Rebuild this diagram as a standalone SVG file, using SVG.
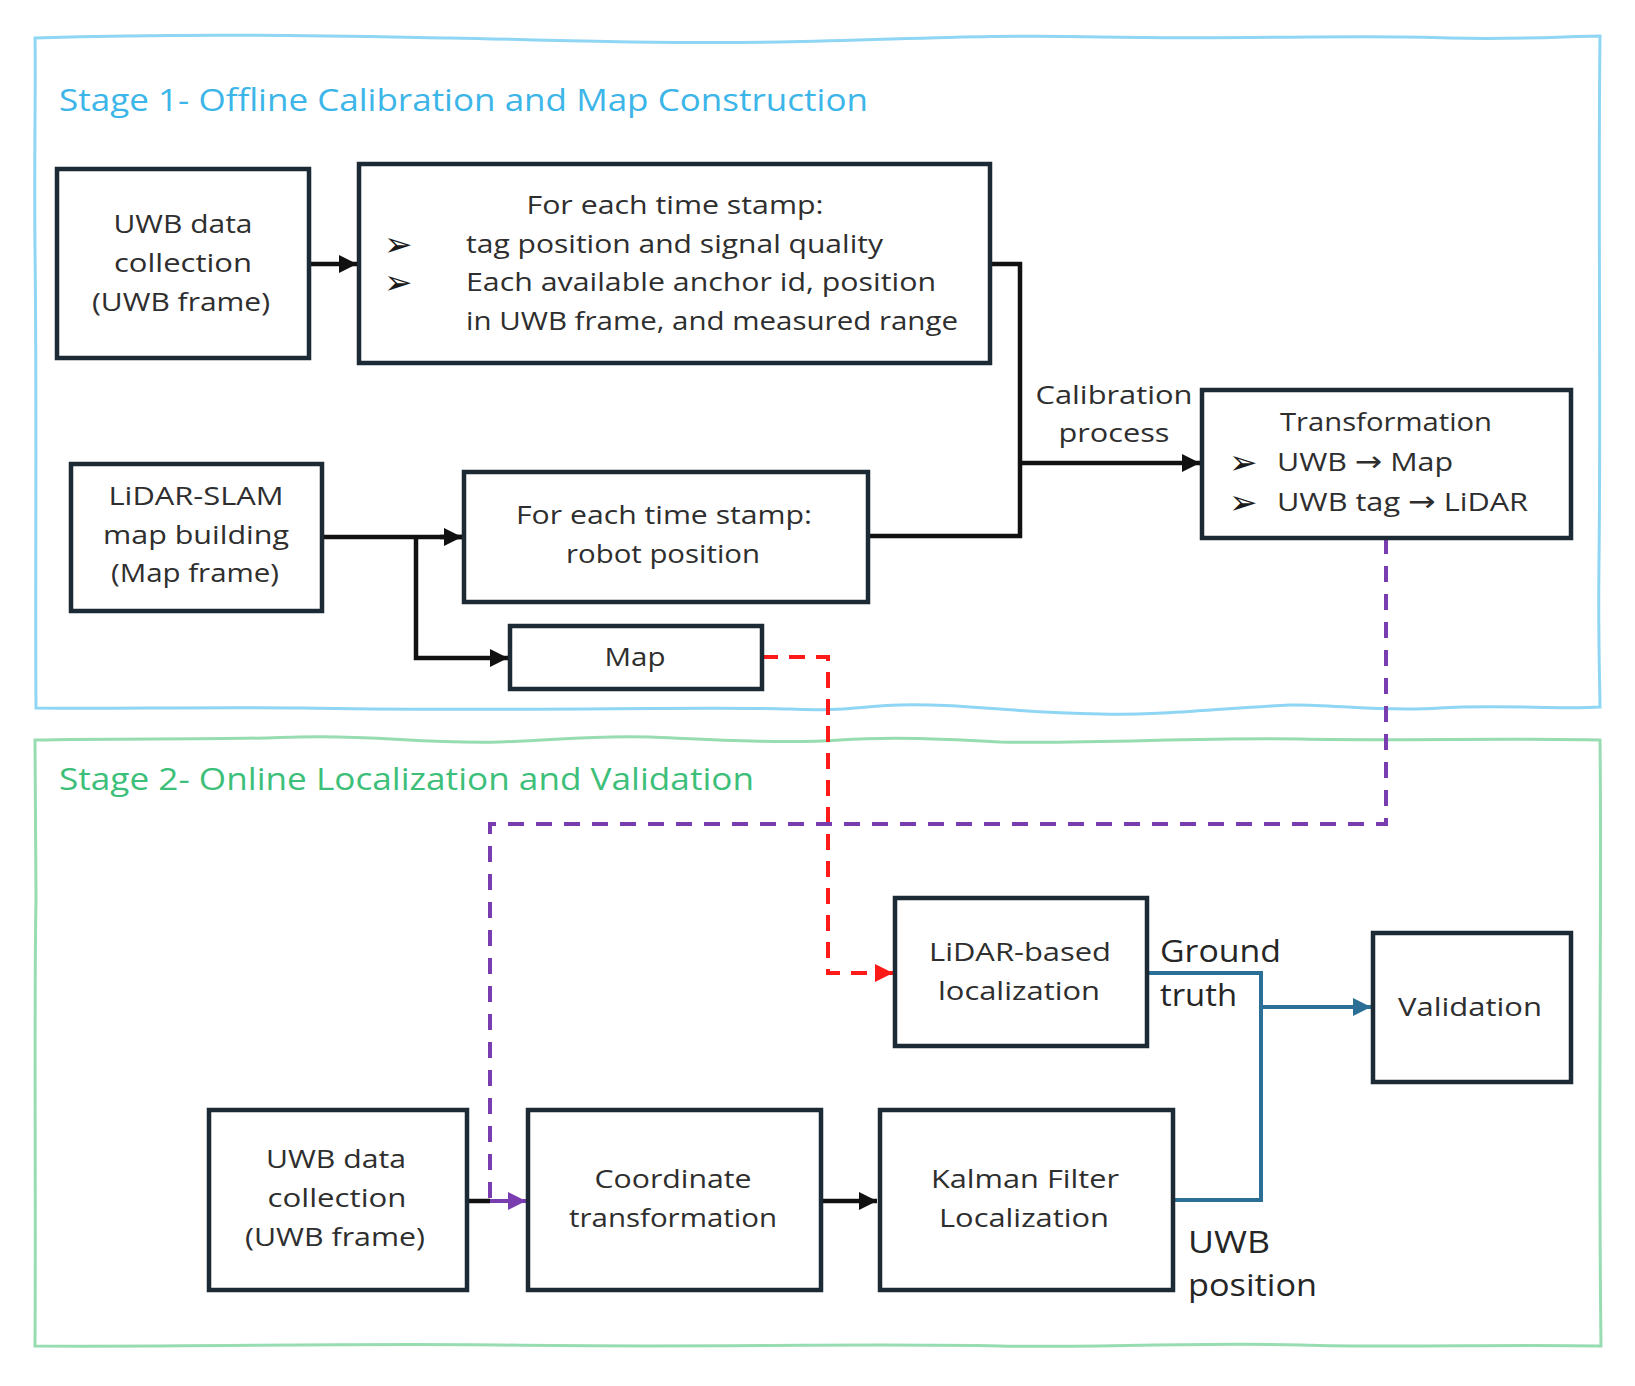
<svg xmlns="http://www.w3.org/2000/svg" width="1635" height="1386" viewBox="0 0 1635 1386">
<defs>
<style>
.bg{fill:#ffffff}
.node{fill:#ffffff;stroke:#1b2a35;stroke-width:4.5}
.t{font-family:"Open Sans","Liberation Sans",sans-serif;font-size:26px;fill:#2e2e2e;font-weight:500}
.tm{text-anchor:middle}
.ar{font-family:"DejaVu Sans",sans-serif;font-size:28px}
.lbl{font-family:"Open Sans","Liberation Sans",sans-serif;font-size:31px;fill:#262626;font-weight:500}
.bul{font-family:"DejaVu Sans",sans-serif;font-size:34px;fill:#1a1a1a}
.title{font-family:"Open Sans","Liberation Sans",sans-serif;font-size:31px;font-weight:500}
.c{fill:none;stroke-width:4}
.blk{stroke:#111111;stroke-width:4.5}
.blu{stroke:#2b6f96}
.red{stroke:#ff1a1a;stroke-dasharray:16 11}
.pur{stroke:#7a3db0;stroke-dasharray:16 12}
.frame1{fill:none;stroke:#8fd6f4;stroke-width:3}
.frame2{fill:none;stroke:#98dcb2;stroke-width:3}
</style>
<marker id="ak" viewBox="0 0 10 10" refX="10" refY="5" markerWidth="18" markerHeight="18" markerUnits="userSpaceOnUse" orient="auto"><path d="M0,0 L10,5 L0,10 z" fill="#111111"/></marker>
<marker id="ab" viewBox="0 0 10 10" refX="10" refY="5" markerWidth="18" markerHeight="18" markerUnits="userSpaceOnUse" orient="auto"><path d="M0,0 L10,5 L0,10 z" fill="#2b6f96"/></marker>
<marker id="ar" viewBox="0 0 10 10" refX="10" refY="5" markerWidth="18" markerHeight="18" markerUnits="userSpaceOnUse" orient="auto"><path d="M0,0 L10,5 L0,10 z" fill="#ff1a1a"/></marker>
<marker id="ap" viewBox="0 0 10 10" refX="10" refY="5" markerWidth="18" markerHeight="18" markerUnits="userSpaceOnUse" orient="auto"><path d="M0,0 L10,5 L0,10 z" fill="#7a3db0"/></marker>
</defs>
<rect class="bg" x="0" y="0" width="1635" height="1386"/>

<g id="stage1">
<path class="frame1" d="M35,38 C200,33 330,36 450,38 C560,40 640,44 780,42 C900,40 980,34 1100,37 C1250,40 1350,34 1450,38 C1520,40 1570,36 1600,36 C1598,200 1601,400 1599,560 C1598,640 1600,690 1600,707 C1560,710 1500,704 1440,708 C1380,712 1330,704 1290,705 C1220,708 1160,716 1100,714 C1000,712 960,703 900,705 C860,706 840,712 790,709 C700,706 500,712 300,708 C200,707 100,709 36,708 C35,600 37,400 35,250 C34,150 36,80 35,38 Z"/>
<text class="title" x="59" y="111" fill="#3cb5e8" textLength="809" lengthAdjust="spacingAndGlyphs">Stage 1- Offline Calibration and Map Construction</text>
</g>

<g id="stage2">
<path class="frame2" d="M35,740 C120,738 220,740 300,737 C380,735 420,744 500,742 C560,740 590,735 650,737 C700,739 780,744 840,740 C900,736 960,740 1000,742 C1100,744 1200,737 1300,739 C1400,741 1500,738 1600,740 C1602,900 1598,1100 1601,1346 C1500,1344 1400,1348 1300,1345 C1200,1342 1100,1348 1000,1346 C850,1343 700,1348 500,1345 C350,1343 200,1347 35,1346 C36,1200 34,1000 36,900 C35,820 35,770 35,740 Z"/>
<text class="title" x="59" y="790" fill="#3dbf7a" textLength="695" lengthAdjust="spacingAndGlyphs">Stage 2- Online Localization and Validation</text>
</g>

<g id="connectors">
<path class="c blk" d="M309,264 L357,264" marker-end="url(#ak)"/>
<path class="c blk" d="M990,264 L1020,264 L1020,536 L868,536"/>
<path class="c blk" d="M1020,463 L1200,463" marker-end="url(#ak)"/>
<path class="c blk" d="M322,537 L462,537"/>
<path class="c blk" d="M416,537 L416,658 L508,658" marker-end="url(#ak)"/>
<path class="c blk" d="M440,537 L462,537" marker-end="url(#ak)"/>
<path class="c red" d="M762,657 L828,657 L828,973 L893,973" marker-end="url(#ar)"/>
<path class="c pur" d="M1386,538 L1386,824 L490,824 L490,1201"/>
<path class="c blk" d="M467,1201 L490,1201"/>
<path style="fill:none;stroke:#7a3db0;stroke-width:4" d="M490,1201 L526,1201" marker-end="url(#ap)"/>
<path class="c blk" d="M821,1201 L877,1201" marker-end="url(#ak)"/>
<path class="c blu" d="M1147,973 L1261,973 L1261,1200 L1173,1200"/>
<path class="c blu" d="M1261,1007 L1371,1007" marker-end="url(#ab)"/>
<text class="t tm" x="1114" y="404" textLength="157" lengthAdjust="spacingAndGlyphs">Calibration</text>
<text class="t tm" x="1114" y="442" textLength="111" lengthAdjust="spacingAndGlyphs">process</text>
<text class="lbl" x="1160" y="962" textLength="121" lengthAdjust="spacingAndGlyphs">Ground</text>
<text class="lbl" x="1160" y="1006" textLength="77" lengthAdjust="spacingAndGlyphs">truth</text>
<text class="lbl" x="1188" y="1253" textLength="82" lengthAdjust="spacingAndGlyphs">UWB</text>
<text class="lbl" x="1188" y="1296" textLength="129" lengthAdjust="spacingAndGlyphs">position</text>
</g>

<g id="uwb1">
<rect class="node" x="57" y="169" width="252" height="189"/>
<text class="t tm" x="183" y="233" textLength="139" lengthAdjust="spacingAndGlyphs">UWB data</text>
<text class="t tm" x="183" y="272" textLength="138" lengthAdjust="spacingAndGlyphs">collection</text>
<text class="t tm" x="181" y="311" textLength="178" lengthAdjust="spacingAndGlyphs">(UWB frame)</text>
</g>

<g id="timestamp1">
<rect class="node" x="359" y="164" width="631" height="199"/>
<text class="t tm" x="675" y="214" textLength="297" lengthAdjust="spacingAndGlyphs">For each time stamp:</text>
<text class="bul" x="384" y="256">➢</text>
<text class="t" x="466" y="253" textLength="417" lengthAdjust="spacingAndGlyphs">tag position and signal quality</text>
<text class="bul" x="384" y="294">➢</text>
<text class="t" x="466" y="291" textLength="470" lengthAdjust="spacingAndGlyphs">Each available anchor id, position</text>
<text class="t" x="466" y="330" textLength="492" lengthAdjust="spacingAndGlyphs">in UWB frame, and measured range</text>
</g>

<g id="lidarslam">
<rect class="node" x="71" y="464" width="251" height="147"/>
<text class="t tm" x="196" y="505" textLength="175" lengthAdjust="spacingAndGlyphs">LiDAR-SLAM</text>
<text class="t tm" x="196" y="544" textLength="186" lengthAdjust="spacingAndGlyphs">map building</text>
<text class="t tm" x="195" y="582" textLength="168" lengthAdjust="spacingAndGlyphs">(Map frame)</text>
</g>

<g id="timestamp2">
<rect class="node" x="464" y="472" width="404" height="130"/>
<text class="t tm" x="664" y="524" textLength="296" lengthAdjust="spacingAndGlyphs">For each time stamp:</text>
<text class="t tm" x="663" y="563" textLength="194" lengthAdjust="spacingAndGlyphs">robot position</text>
</g>

<g id="map">
<rect class="node" x="510" y="626" width="252" height="63"/>
<text class="t tm" x="635" y="666" textLength="61" lengthAdjust="spacingAndGlyphs">Map</text>
</g>

<g id="transformation">
<rect class="node" x="1202" y="390" width="369" height="148"/>
<text class="t tm" x="1386" y="431" textLength="212" lengthAdjust="spacingAndGlyphs">Transformation</text>
<text class="bul" x="1229" y="474">➢</text>
<text class="t" x="1277" y="471" textLength="176" lengthAdjust="spacingAndGlyphs">UWB <tspan class="ar">→</tspan> Map</text>
<text class="bul" x="1229" y="514">➢</text>
<text class="t" x="1277" y="511" textLength="251" lengthAdjust="spacingAndGlyphs">UWB tag <tspan class="ar">→</tspan> LiDAR</text>
</g>

<g id="lidarloc">
<rect class="node" x="895" y="898" width="252" height="148"/>
<text class="t tm" x="1020" y="961" textLength="182" lengthAdjust="spacingAndGlyphs">LiDAR-based</text>
<text class="t tm" x="1019" y="1000" textLength="162" lengthAdjust="spacingAndGlyphs">localization</text>
</g>

<g id="validation">
<rect class="node" x="1373" y="933" width="198" height="149"/>
<text class="t tm" x="1470" y="1016" textLength="144" lengthAdjust="spacingAndGlyphs">Validation</text>
</g>

<g id="uwb2">
<rect class="node" x="209" y="1110" width="258" height="180"/>
<text class="t tm" x="336" y="1168" textLength="140" lengthAdjust="spacingAndGlyphs">UWB data</text>
<text class="t tm" x="337" y="1207" textLength="139" lengthAdjust="spacingAndGlyphs">collection</text>
<text class="t tm" x="335" y="1246" textLength="180" lengthAdjust="spacingAndGlyphs">(UWB frame)</text>
</g>

<g id="coord">
<rect class="node" x="528" y="1110" width="293" height="180"/>
<text class="t tm" x="673" y="1188" textLength="157" lengthAdjust="spacingAndGlyphs">Coordinate</text>
<text class="t tm" x="673" y="1227" textLength="208" lengthAdjust="spacingAndGlyphs">transformation</text>
</g>

<g id="kalman">
<rect class="node" x="880" y="1110" width="293" height="180"/>
<text class="t tm" x="1025" y="1188" textLength="188" lengthAdjust="spacingAndGlyphs">Kalman Filter</text>
<text class="t tm" x="1024" y="1227" textLength="170" lengthAdjust="spacingAndGlyphs">Localization</text>
</g>
</svg>
